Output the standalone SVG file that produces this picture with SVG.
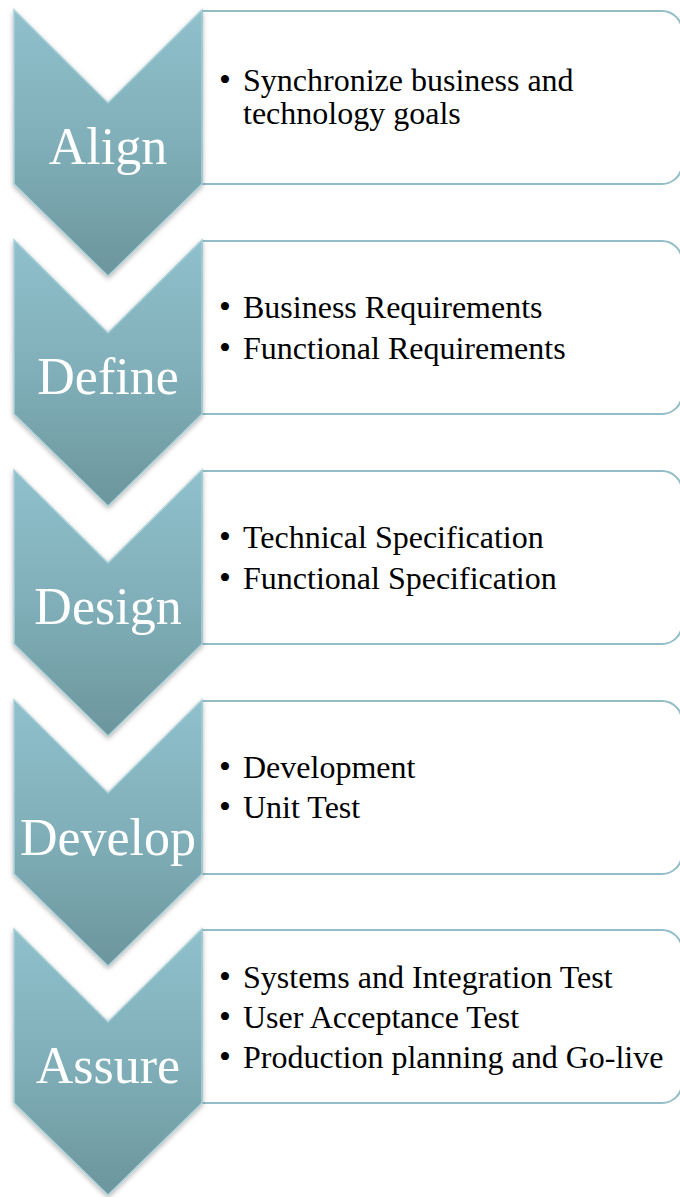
<svg xmlns="http://www.w3.org/2000/svg" width="680" height="1197" viewBox="0 0 680 1197">
<defs>
<linearGradient id="chev" x1="0" y1="0" x2="0" y2="1">
<stop offset="0" stop-color="#8FC0CB"/>
<stop offset="0.5" stop-color="#80AFB9"/>
<stop offset="1" stop-color="#6C959C"/>
</linearGradient>
<filter id="sh" x="-20%" y="-10%" width="140%" height="125%">
<feDropShadow dx="0" dy="2" stdDeviation="2.5" flood-color="#000" flood-opacity="0.3"/>
</filter>
</defs>
<style>
.chev{fill:url(#chev);stroke:#A9D1D9;stroke-width:1.5;filter:url(#sh)}
.box{fill:#FFFFFF;stroke:#93BEC8;stroke-width:2}
.lbl{font-family:"Liberation Serif","Times New Roman",serif;font-size:52px;fill:#FFFFFF;text-anchor:middle}
.txt{font-family:"Liberation Serif","Times New Roman",serif;font-size:32px;fill:#000000}
.bul{font-family:"Liberation Serif","Times New Roman",serif;font-size:34px;fill:#000000}
</style>
<rect width="680" height="1197" fill="#FFFFFF"/>
<g id="connectors"/>
<g id="align">
<path class="box" d="M202,11 H662 A20,20 0 0 1 682,31 V164 A20,20 0 0 1 662,184 H202 Z"/>
<path class="chev" d="M14,10 L108,103 L202,10 L202,184 L108,276 L14,184 Z"/>
<text class="lbl" x="108" y="164">Align</text>
<text class="bul" x="219" y="91">•</text>
<text class="txt" x="243" y="91">Synchronize business and</text>
<text class="txt" x="243" y="124">technology goals</text>
</g>
<g id="define">
<path class="box" d="M202,241 H662 A20,20 0 0 1 682,261 V394 A20,20 0 0 1 662,414 H202 Z"/>
<path class="chev" d="M14,240 L108,333 L202,240 L202,414 L108,506 L14,414 Z"/>
<text class="lbl" x="108" y="394">Define</text>
<text class="bul" x="219" y="318">•</text>
<text class="txt" x="243" y="318">Business Requirements</text>
<text class="bul" x="219" y="359">•</text>
<text class="txt" x="243" y="359">Functional Requirements</text>
</g>
<g id="design">
<path class="box" d="M202,471 H662 A20,20 0 0 1 682,491 V624 A20,20 0 0 1 662,644 H202 Z"/>
<path class="chev" d="M14,470 L108,563 L202,470 L202,644 L108,736 L14,644 Z"/>
<text class="lbl" x="108" y="624">Design</text>
<text class="bul" x="219" y="548">•</text>
<text class="txt" x="243" y="548">Technical Specification</text>
<text class="bul" x="219" y="589">•</text>
<text class="txt" x="243" y="589">Functional Specification</text>
</g>
<g id="develop">
<path class="box" d="M202,701 H662 A20,20 0 0 1 682,721 V854 A20,20 0 0 1 662,874 H202 Z"/>
<path class="chev" d="M14,700 L108,793 L202,700 L202,874 L108,966 L14,874 Z"/>
<text class="lbl" x="108" y="855">Develop</text>
<text class="bul" x="219" y="778">•</text>
<text class="txt" x="243" y="778">Development</text>
<text class="bul" x="219" y="818">•</text>
<text class="txt" x="243" y="818">Unit Test</text>
</g>
<g id="assure">
<path class="box" d="M202,930 H662 A20,20 0 0 1 682,950 V1083 A20,20 0 0 1 662,1103 H202 Z"/>
<path class="chev" d="M14,929 L108,1022 L202,929 L202,1103 L108,1195 L14,1103 Z"/>
<text class="lbl" x="108" y="1083">Assure</text>
<text class="bul" x="219" y="988">•</text>
<text class="txt" x="243" y="988">Systems and Integration Test</text>
<text class="bul" x="219" y="1028">•</text>
<text class="txt" x="243" y="1028">User Acceptance Test</text>
<text class="bul" x="219" y="1068">•</text>
<text class="txt" x="243" y="1068">Production planning and Go-live</text>
</g>
</svg>
